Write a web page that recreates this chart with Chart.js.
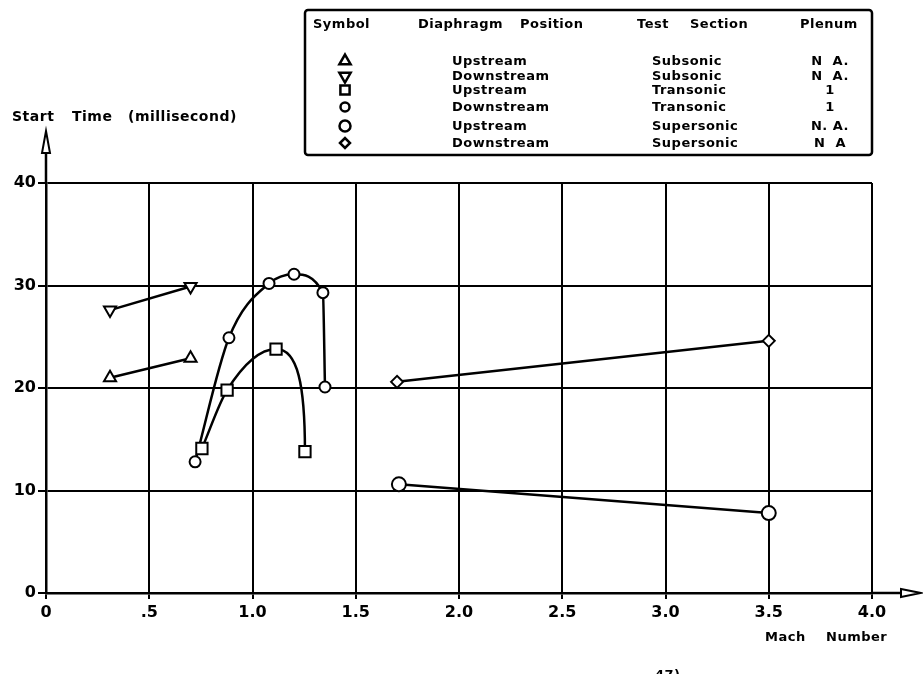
<!DOCTYPE html>
<html>
<head>
<meta charset="utf-8">
<script src="https://cdn.jsdelivr.net/npm/chart.js@4.4.1/dist/chart.umd.min.js"></script>
<style>
  html, body { margin: 0; padding: 0; background: #fff; }
  #wrap { width: 923px; height: 674px; }
</style>
</head>
<body>
<div id="wrap"><canvas id="startChart" width="923" height="674"></canvas></div>
<script>
// values (Mach number vs start time, ms)
var subUpMach = [0.31, 0.70];
var subUpTime = [21.0, 22.9];
var subDownMach = [0.31, 0.70];
var subDownTime = [27.6, 29.9];
var tranUpMach = [0.755, 0.877, 1.114, 1.254];
var tranUpTime = [14.1, 19.8, 23.8, 13.8];
var tranDownMach = [0.722, 0.886, 1.080, 1.201, 1.341, 1.351];
var tranDownTime = [12.8, 24.9, 30.2, 31.1, 29.3, 20.1];
var superUpMach = [1.709, 3.5];
var superUpTime = [10.6, 7.8];
var superDownMach = [1.70, 3.5];
var superDownTime = [20.6, 24.6];

var xTickLabels = ['0', '.5', '1.0', '1.5', '2.0', '2.5', '3.0', '3.5', '4.0'];
var yTickLabels = ['0', '10', '20', '30', '40'];

// legend table
var legendPosition = ['Upstream', 'Downstream', 'Upstream', 'Downstream', 'Upstream', 'Downstream'];
var legendSection = ['Subsonic', 'Subsonic', 'Transonic', 'Transonic', 'Supersonic', 'Supersonic'];
var legendPlenum = ['N  A.', 'N  A.', '1', '1', 'N. A.', 'N  A'];

function pts(xs, ys) {
    return xs.map(function (x, i) { return { x: x, y: ys[i] }; });
}

function series(label, xs, ys, style, radius, extra) {
    var ds = {
        label: label,
        data: pts(xs, ys),
        showLine: true,
        borderColor: '#000',
        borderWidth: 2.5,
        pointStyle: style,
        pointRadius: radius,
        pointBackgroundColor: '#fff',
        pointBorderColor: '#000',
        pointBorderWidth: 2,
        tension: 0
    };
    for (var k in extra) ds[k] = extra[k];
    return ds;
}

var datasets = [
    series('Upstream Subsonic', subUpMach, subUpTime, 'triangle', 7, {}),
    series('Downstream Subsonic', subDownMach, subDownTime, 'triangle', 7, { pointRotation: 180 }),
    series('Upstream Transonic', tranUpMach, tranUpTime, 'rect', 8, { cubicInterpolationMode: 'monotone' }),
    series('Downstream Transonic', tranDownMach, tranDownTime, 'circle', 5.5, { cubicInterpolationMode: 'monotone' }),
    series('Upstream Supersonic', superUpMach, superUpTime, 'circle', 7, {}),
    series('Downstream Supersonic', superDownMach, superDownTime, 'rectRot', 6, {})
];

var legendStyles = [
    { pointStyle: 'triangle', radius: 6.5, rotation: 0 },
    { pointStyle: 'triangle', radius: 6.5, rotation: 180 },
    { pointStyle: 'rect', radius: 6.5, rotation: 0 },
    { pointStyle: 'circle', radius: 4.5, rotation: 0 },
    { pointStyle: 'circle', radius: 5.5, rotation: 0 },
    { pointStyle: 'rectRot', radius: 5, rotation: 0 }
];

var FONT = '"DejaVu Sans", "Liberation Sans", sans-serif';

// the squares' curve drops vertically into its last point
var curveFix = {
    id: 'curveFix',
    beforeDatasetDraw: function (chart, args) {
        if (args.index !== 2) return;
        var line = args.meta.dataset;
        line.updateControlPoints(chart.chartArea, 'x');
        var p = args.meta.data;
        var a = p[p.length - 2], b = p[p.length - 1];
        a.cp2x = a.x + (b.x - a.x) * 0.75;
        a.cp2y = a.y;
        b.cp1x = b.x;
        b.cp1y = a.y + (b.y - a.y) * 0.35;
    }
};

// axis arrows, titles and the legend table
var decorations = {
    id: 'decorations',
    afterDraw: function (chart) {
        var ctx = chart.ctx;
        var xs = chart.scales.x, ys = chart.scales.y;
        var x0 = xs.getPixelForValue(0), y0 = ys.getPixelForValue(0);
        var yTop = ys.getPixelForValue(40), xRight = xs.getPixelForValue(4);
        ctx.save();
        ctx.strokeStyle = '#000';
        ctx.fillStyle = '#000';
        ctx.lineWidth = 2.5;

        // y axis extension + hollow arrow
        ctx.beginPath();
        ctx.moveTo(x0, yTop);
        ctx.lineTo(x0, 152);
        ctx.stroke();
        ctx.lineWidth = 2;
        ctx.fillStyle = '#fff';
        ctx.beginPath();
        ctx.moveTo(x0, 131);
        ctx.lineTo(x0 + 4, 153);
        ctx.lineTo(x0 - 4, 153);
        ctx.closePath();
        ctx.fill();
        ctx.stroke();

        // x axis extension + hollow arrow
        ctx.lineWidth = 2.5;
        ctx.beginPath();
        ctx.moveTo(xRight, y0);
        ctx.lineTo(902, y0);
        ctx.stroke();
        ctx.lineWidth = 2;
        ctx.beginPath();
        ctx.moveTo(921, y0);
        ctx.lineTo(901, y0 - 4);
        ctx.lineTo(901, y0 + 4);
        ctx.closePath();
        ctx.fill();
        ctx.stroke();

        ctx.fillStyle = '#000';
        ctx.textBaseline = 'middle';
        ctx.textAlign = 'left';
        ctx.letterSpacing = '0.5px';

        // axis titles
        ctx.font = 'bold 14px ' + FONT;
        ctx.fillText('Start', 12, 117);
        ctx.fillText('Time', 72, 117);
        ctx.fillText('(millisecond)', 128, 117);
        ctx.font = 'bold 13px ' + FONT;
        ctx.fillText('Mach', 765, 638);
        ctx.fillText('Number', 826, 638);
        ctx.fillText('47)', 655, 676);

        // legend box
        ctx.lineWidth = 2.5;
        ctx.beginPath();
        ctx.roundRect(305, 10, 567, 145, 3);
        ctx.stroke();

        ctx.font = 'bold 13px ' + FONT;
        ctx.fillText('Symbol', 313, 25);
        ctx.fillText('Diaphragm', 418, 25);
        ctx.fillText('Position', 520, 25);
        ctx.fillText('Test', 637, 25);
        ctx.fillText('Section', 690, 25);
        ctx.fillText('Plenum', 800, 25);

        var rowY = [62, 77, 91, 108, 127, 144];
        for (var i = 0; i < rowY.length; i++) {
            ctx.fillStyle = '#000';
            ctx.textAlign = 'left';
            ctx.fillText(legendPosition[i], 452, rowY[i]);
            ctx.fillText(legendSection[i], 652, rowY[i]);
            ctx.textAlign = 'center';
            ctx.fillText(legendPlenum[i], 830, rowY[i]);
            var st = legendStyles[i];
            ctx.fillStyle = '#fff';
            ctx.strokeStyle = '#000';
            ctx.lineWidth = 2.5;
            Chart.helpers.drawPoint(ctx, {
                pointStyle: st.pointStyle, radius: st.radius,
                rotation: st.rotation, borderWidth: 2.5
            }, 345, rowY[i] - 1);
        }
        ctx.restore();
    }
};

var ctx = document.getElementById('startChart').getContext('2d');
var startChart = new Chart(ctx, {
    type: 'scatter',
    data: { datasets: datasets },
    options: {
        responsive: false,
        animation: false,
        devicePixelRatio: 1,
        layout: { padding: { top: 183, right: 51, left: 0, bottom: 0 } },
        plugins: {
            legend: { display: false },
            tooltip: { enabled: false }
        },
        scales: {
            x: {
                type: 'linear',
                min: 0,
                max: 4,
                afterFit: function (scale) { scale.height = 81; },
                ticks: {
                    stepSize: 0.5,
                    color: '#000',
                    padding: 4,
                    maxRotation: 0,
                    font: { family: FONT, size: 16, weight: 'bold' },
                    callback: function (v) { return xTickLabels[Math.round(v * 2)]; }
                },
                grid: { color: '#000', lineWidth: 2, tickLength: 6 },
                border: { color: '#000', width: 2.5 }
            },
            y: {
                min: 0,
                max: 40,
                afterFit: function (scale) { scale.width = 46; },
                ticks: {
                    stepSize: 10,
                    color: '#000',
                    padding: 2,
                    font: { family: FONT, size: 16, weight: 'bold' },
                    callback: function (v) { return yTickLabels[Math.round(v / 10)]; }
                },
                grid: { color: '#000', lineWidth: 2, tickLength: 8 },
                border: { color: '#000', width: 2.5 }
            }
        }
    },
    plugins: [curveFix, decorations]
});
</script>
</body>
</html>
